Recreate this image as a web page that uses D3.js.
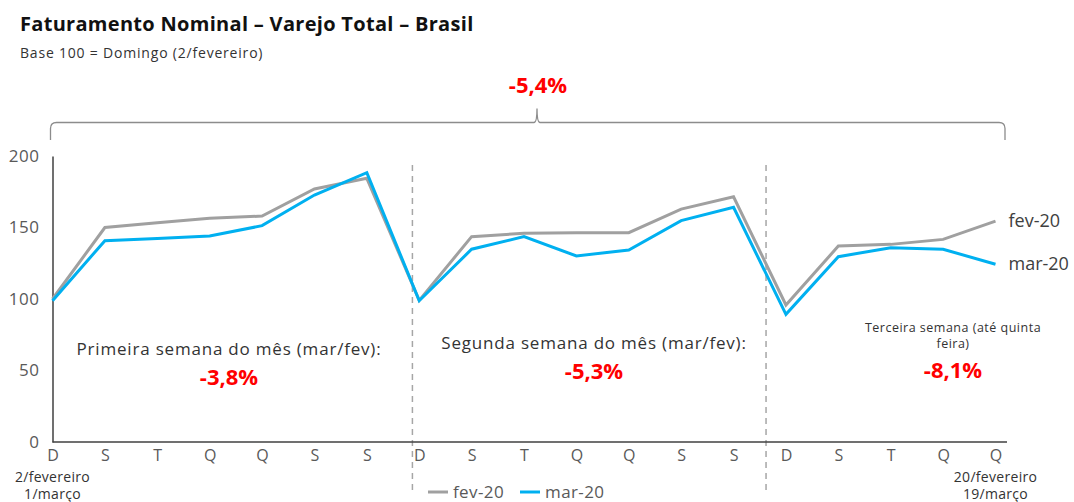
<!DOCTYPE html>
<html>
<head>
<meta charset="utf-8">
<script src="https://cdn.jsdelivr.net/npm/d3@7"></script>
<style>
  body { margin: 0; background: #fff; }
  svg { font-family: "Open Sans", sans-serif; }
</style>
</head>
<body>
<div id="chart"></div>
<script>
// data
var days = ["D", "S", "T", "Q", "Q", "S", "S", "D", "S", "T", "Q", "Q", "S", "S", "D", "S", "T", "Q", "Q"];
var fev20 = [100, 150, 153.4, 156.4, 158, 176.9, 184.4, 99, 143.6, 145.9, 146.4, 146.4, 162.9, 171.5, 95.8, 137, 138.2, 141.7, 154.5];
var mar20 = [98.8, 140.8, 142.3, 144, 151.3, 172.7, 188.3, 98.8, 134.8, 143.6, 130.1, 134.3, 154.8, 164.1, 89.3, 129.6, 135.9, 134.8, 124.3];
var yTicks = [0, 50, 100, 150, 200];
var weekNotes = [
  { lines: ["Primeira semana do mês (mar/fev):"], value: "-3,8%" },
  { lines: ["Segunda semana do mês (mar/fev):"], value: "-5,3%" },
  { lines: ["Terceira semana (até quinta", "feira)"], value: "-8,1%" }
];
var totalChange = "-5,4%";

var W = 1074, H = 502;
var grey = "#a0a0a0", blue = "#00b0f0", red = "#ff0000", txt = "#595959";

var svg = d3.select("#chart").append("svg")
  .attr("width", W).attr("height", H);

var x = d3.scaleLinear().domain([0, days.length - 1]).range([52.5, 995.5]);
var y = d3.scaleLinear().domain([0, 200]).range([442, 156]);

// titles
svg.append("text").attr("x", 20).attr("y", 31)
  .style("font-size", "20px").style("font-weight", "bold").style("letter-spacing", "0.3px")
  .attr("fill", "#111")
  .text("Faturamento Nominal – Varejo Total – Brasil");
svg.append("text").attr("x", 20).attr("y", 58)
  .style("font-size", "14px").style("letter-spacing", "0.8px").attr("fill", "#333")
  .text("Base 100 = Domingo (2/fevereiro)");

// week separators
[6.87, 13.62].forEach(function(p) {
  svg.append("line")
    .attr("x1", x(p)).attr("x2", x(p))
    .attr("y1", 165).attr("y2", 490)
    .attr("stroke", "#a6a6a6").attr("stroke-width", 1.5)
    .attr("stroke-dasharray", "6,5");
});

// axes
var yAxis = d3.axisLeft(y).tickValues(yTicks).tickSize(0).tickPadding(13);
var gy = svg.append("g").attr("transform", "translate(" + x(0) + ",0)").call(yAxis);
gy.select(".domain").attr("stroke", "#404040").attr("stroke-width", 1.5);
gy.selectAll("text").style("font-size", "17px").style("letter-spacing", "0.5px").attr("fill", txt)
  .style("font-family", "'Open Sans', sans-serif");

var xAxis = d3.axisBottom(x).tickValues(d3.range(days.length))
  .tickFormat(function(i) { return days[i]; }).tickSize(0).tickPadding(8);
var gx = svg.append("g").attr("transform", "translate(0," + y(0) + ")").call(xAxis);
gx.select(".domain").attr("stroke", "#404040").attr("stroke-width", 1.5)
  .attr("d", "M" + x(0) + ",0H1007");
gx.selectAll("text").style("font-size", "16px").attr("fill", txt)
  .style("font-family", "'Open Sans', sans-serif");

// date labels under axis
[[0, "2/fevereiro", "1/março"], [days.length - 1, "20/fevereiro", "19/março"]].forEach(function(d) {
  svg.append("text").attr("x", x(d[0])).attr("y", 482).attr("text-anchor", "middle")
    .style("font-size", "14px").style("letter-spacing", "0.3px").attr("fill", "#333").text(d[1]);
  svg.append("text").attr("x", x(d[0])).attr("y", 499).attr("text-anchor", "middle")
    .style("font-size", "14px").style("letter-spacing", "0.3px").attr("fill", "#333").text(d[2]);
});

// lines
var line = d3.line().x(function(d, i) { return x(i); }).y(function(d) { return y(d); });
svg.append("path").datum(fev20).attr("d", line)
  .attr("fill", "none").attr("stroke", grey).attr("stroke-width", 3);
svg.append("path").datum(mar20).attr("d", line)
  .attr("fill", "none").attr("stroke", blue).attr("stroke-width", 3);

// end labels
var last = days.length - 1;
svg.append("text").attr("x", x(last) + 13).attr("y", y(fev20[last]) + 6)
  .style("font-size", "18px").attr("fill", "#404040").text("fev-20");
svg.append("text").attr("x", x(last) + 13).attr("y", y(mar20[last]) + 6)
  .style("font-size", "18px").attr("fill", "#404040").text("mar-20");

// bracket over whole period
var bx0 = 50.5, bx1 = 1005, by = 122.5, mid = 537;
svg.append("path")
  .attr("d", "M" + bx0 + ",140 V" + (by + 6) + " Q" + bx0 + "," + by + " " + (bx0 + 6) + "," + by +
    " H" + (mid - 3) + " Q" + mid + "," + by + " " + mid + "," + (by - 14) +
    " Q" + mid + "," + by + " " + (mid + 3) + "," + by +
    " H" + (bx1 - 6) + " Q" + bx1 + "," + by + " " + bx1 + "," + (by + 6) + " V140")
  .attr("fill", "none").attr("stroke", "#8c8c8c").attr("stroke-width", 1.3);
svg.append("text").attr("x", mid + 1).attr("y", 93).attr("text-anchor", "middle")
  .style("font-size", "22px").style("font-weight", "bold").attr("fill", red).text(totalChange);

// week annotations
var notePos = [
  { cx: 229, y: 355, size: 17, ls: 0.8, gap: 0 },
  { cx: 594, y: 349, size: 17, ls: 0.8, gap: 0 },
  { cx: 953, y: 332, size: 12.5, ls: 0.5, gap: 16 }
];
weekNotes.forEach(function(n, i) {
  var p = notePos[i];
  n.lines.forEach(function(l, j) {
    svg.append("text").attr("x", p.cx).attr("y", p.y + j * p.gap).attr("text-anchor", "middle")
      .style("font-size", p.size + "px").style("letter-spacing", p.ls + "px")
      .attr("fill", "#333").text(l);
  });
  svg.append("text").attr("x", p.cx).attr("y", p.y + (n.lines.length - 1) * p.gap + 30)
    .attr("text-anchor", "middle")
    .style("font-size", "22px").style("font-weight", "bold").attr("fill", red).text(n.value);
});

// legend
var legend = svg.append("g").attr("transform", "translate(428,492)");
[["fev-20", grey], ["mar-20", blue]].forEach(function(d, i) {
  var g = legend.append("g").attr("transform", "translate(" + (i * 92) + ",0)");
  g.append("line").attr("x1", 0).attr("x2", 20).attr("y1", 0).attr("y2", 0)
    .attr("stroke", d[1]).attr("stroke-width", 3);
  g.append("text").attr("x", 25).attr("y", 6).style("font-size", "17px")
    .style("letter-spacing", "0.4px").attr("fill", txt).text(d[0]);
});
</script>
</body>
</html>
